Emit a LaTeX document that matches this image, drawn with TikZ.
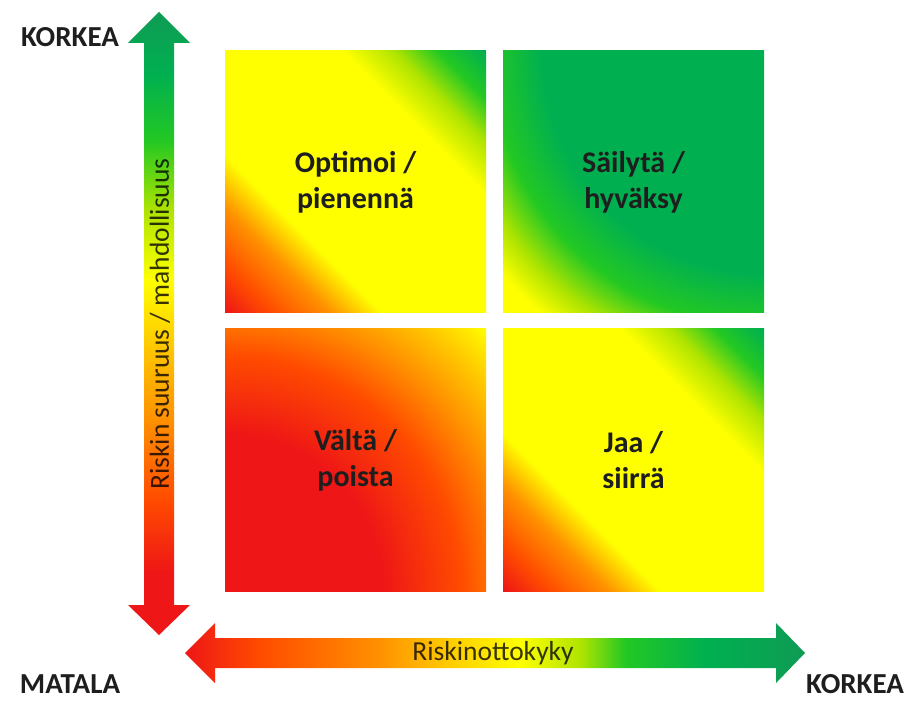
\documentclass[tikz,border=0pt]{standalone}
\usepackage{fontspec}
\setmainfont{Carlito}
\definecolor{cRed}{RGB}{238,22,22}
\definecolor{cRedO}{RGB}{255,75,0}
\definecolor{cOrange}{RGB}{255,145,0}
\definecolor{cYellowO}{RGB}{255,205,0}
\definecolor{cYellow}{RGB}{255,255,0}
\definecolor{cYGreen}{RGB}{175,228,0}
\definecolor{cBGreen}{RGB}{35,200,35}
\definecolor{cGreen}{RGB}{0,176,80}
\definecolor{cDGreen}{RGB}{15,155,85}
\definecolor{txt}{RGB}{30,30,30}
% diagonal (bottom-left -> top-right) shading; corners at 14.64bp / 85.36bp
\pgfdeclarehorizontalshading{diagq}{100bp}{color(0bp)=(cRed); color(14.64bp)=(cRed); color(21bp)=(cRedO); color(28.8bp)=(cOrange); color(36bp)=(cYellow); color(66bp)=(cYellow); color(73bp)=(cYGreen); color(79bp)=(cBGreen); color(85.36bp)=(cGreen); color(100bp)=(cGreen)}
% radial from top-right corner (25bp = 1.5 side)
\pgfdeclareradialshading{trrad}{\pgfpoint{0bp}{0bp}}{color(0bp)=(cGreen); color(14.2bp)=(cGreen); color(17.5bp)=(cBGreen); color(20bp)=(cYGreen); color(22bp)=(cYellow); color(25bp)=(cYellow); color(50bp)=(cYellow)}
% radial from bottom-left corner
\pgfdeclareradialshading{blrad}{\pgfpoint{0bp}{0bp}}{color(0bp)=(cRed); color(10bp)=(cRed); color(15bp)=(cRedO); color(18.3bp)=(cOrange); color(21.3bp)=(cYellowO); color(23.6bp)=(cYellow); color(25bp)=(cYellow); color(50bp)=(cYellow)}
% vertical arrow (bottom 25bp -> top 75bp)
\pgfdeclareverticalshading{varrow}{100bp}{color(0bp)=(cRed); color(25bp)=(cRed); color(30bp)=(cRed); color(35.8bp)=(cRedO); color(42.3bp)=(cOrange); color(48.7bp)=(cYellowO); color(53.5bp)=(cYellow); color(59bp)=(cYGreen); color(64.7bp)=(cBGreen); color(70bp)=(cGreen); color(75bp)=(cDGreen); color(100bp)=(cDGreen)}
% horizontal arrow (left 25bp -> right 75bp)
\pgfdeclarehorizontalshading{harrow}{100bp}{color(0bp)=(cRed); color(25bp)=(cRed); color(31bp)=(cRedO); color(40.7bp)=(cOrange); color(46.4bp)=(cYellowO); color(52bp)=(cYellow); color(56.9bp)=(cYGreen); color(60.5bp)=(cBGreen); color(67bp)=(cGreen); color(75bp)=(cDGreen); color(100bp)=(cDGreen)}
\tikzset{
  quadtext/.style={align=center, text=txt, font=\fontsize{30}{36}\selectfont\bfseries},
  axislabel/.style={text=txt, inner sep=0pt, font=\fontsize{29}{33}\selectfont\bfseries},
  arrowtext/.style={text=black, text opacity=0.78, font=\fontsize{27.5}{30}\selectfont, inner sep=0pt}
}
\begin{document}
\begin{tikzpicture}[x=1pt,y=1pt]
\useasboundingbox[fill=white] (0,0) rectangle (912,702);
% quadrants
\shade[shading=diagq, shading angle=45] (225,389) rectangle (486,651);
\begin{scope}
  \clip (503,389) rectangle (764,651);
  \shade[shading=trrad] (764,651) circle (391.5pt);
\end{scope}
\begin{scope}
  \clip (225,111) rectangle (486,373);
  \shade[shading=blrad] (225,111) circle (393pt);
\end{scope}
\shade[shading=diagq, shading angle=45] (503,111) rectangle (764,373);
% quadrant texts
\node[quadtext] (q1) at (355.5,520) {Optimoi /\\pienennä};
\node[quadtext] (q2) at (633.5,520) {Säilytä /\\hyväksy};
\node[quadtext] (q3) at (355.5,242) {Vältä /\\poista};
\node[quadtext] (q4) at (633.5,242) {Jaa /\\siirrä};
% vertical arrow
\shade[shading=varrow] (159,690) -- (190,659) -- (174,659) -- (174,97) -- (190,97) -- (159,67) -- (128,97) -- (144,97) -- (144,659) -- (128,659) -- cycle;
% horizontal arrow
\shade[shading=harrow] (185,49) -- (215,79) -- (215,64) -- (776,64) -- (776,79) -- (805,49) -- (776,19) -- (776,34) -- (215,34) -- (215,19) -- cycle;
% arrow texts
\node[arrowtext, rotate=90] (ytext) at (160,378) {Riskin suuruus / mahdollisuus};
\node[arrowtext] (xtext) at (493,49) {Riskinottokyky};
% axis labels
\node[axislabel] (ktop) at (70,665) {KORKEA};
\node[axislabel] (mat) at (70,18) {MATALA};
\node[axislabel] (kright) at (855,18) {KORKEA};
\end{tikzpicture}
\end{document}
